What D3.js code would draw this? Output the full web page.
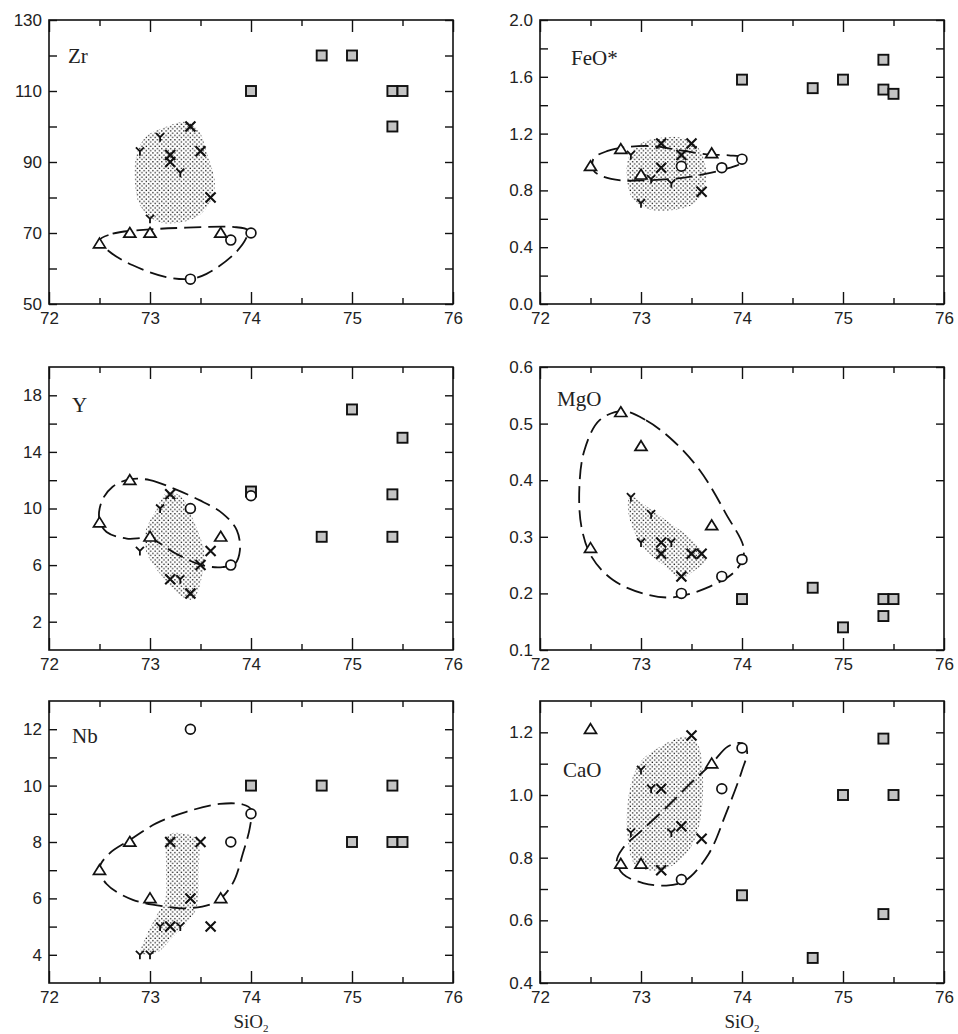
<!DOCTYPE html>
<html>
<head>
<meta charset="utf-8">
<script src="https://cdn.jsdelivr.net/npm/d3@7"></script>
<style>
body { margin: 0; background: #fff; }
svg { display: block; }
</style>
</head>
<body>
<svg id="chart" width="958" height="1034"></svg>
<script>
// shared SiO2 axis
var sio2Ticks = [72, 73, 74, 75, 76];
var sio2Minor = [72.5, 73.5, 74.5, 75.5];

// Zr
var zrTicks = [50, 70, 90, 110, 130];
var zrMinor = [60, 80, 100, 120];
var zrSquare = [[74,110],[74.7,120],[75,120],[75.4,110],[75.5,110],[75.4,100]];
var zrCircle = [[74,70],[73.8,68],[73.4,57]];
var zrTriangle = [[72.5,67],[72.8,70],[73,70],[73.7,70]];
var zrCross = [[73.4,100],[73.2,92],[73.2,90],[73.5,93],[73.6,80]];
var zrYmark = [[72.9,93],[73.1,97],[73.3,87],[73,74]];
var zrField = [[73.36,101.3],[73.16,99.9],[72.96,97.1],[72.87,92.4],[72.85,84.9],[72.9,77.8],[73.06,73.4],[73.26,72.8],[73.49,75],[73.62,80.2],[73.64,84.9],[73.57,91.9],[73.48,99]];
var zrLoop = [[72.5,67.9],[72.63,69.8],[73,71],[73.36,71.5],[73.82,71.7],[73.97,70.8],[73.95,68.4],[73.82,63.7],[73.56,58.5],[73.4,57.1],[73.16,57.6],[72.83,60.9],[72.6,64.7]];

// FeO*
var feTicks = [0, 0.4, 0.8, 1.2, 1.6, 2.0];
var feMinor = [0.2, 0.6, 1.0, 1.4, 1.8];
var feSquare = [[74,1.58],[74.7,1.52],[75,1.58],[75.4,1.72],[75.4,1.51],[75.5,1.48]];
var feCircle = [[73.4,0.97],[73.8,0.96],[74,1.02]];
var feTriangle = [[72.5,0.97],[72.8,1.09],[73,0.91],[73.7,1.06]];
var feCross = [[73.2,1.13],[73.5,1.13],[73.4,1.05],[73.2,0.96],[73.6,0.79]];
var feYmark = [[72.9,1.05],[73.1,0.88],[73.3,0.85],[73,0.71]];
var feField = [[73.16,1.165],[73.39,1.172],[73.56,1.106],[73.64,0.965],[73.63,0.824],[73.52,0.706],[73.29,0.659],[73.06,0.671],[72.91,0.753],[72.86,0.894],[72.88,1.035],[72.99,1.129]];
var feLoop = [[72.53,1.024],[72.67,1.078],[72.86,1.106],[73.13,1.111],[73.39,1.082],[73.65,1.054],[73.87,1.047],[74,1.031],[73.98,0.988],[73.85,0.953],[73.65,0.918],[73.39,0.887],[73.06,0.871],[72.8,0.871],[72.62,0.899],[72.53,0.941]];

// Y
var ytTicks = [2, 6, 10, 14, 18];
var ytMinor = [4, 8, 12, 16];
var ytSquare = [[75,17],[75.5,15],[75.4,11],[75.4,8],[74.7,8],[74,11.2]];
var ytCircle = [[74,10.9],[73.4,10],[73.8,6]];
var ytTriangle = [[72.8,12],[72.5,9],[73,8],[73.7,8]];
var ytCross = [[73.2,11],[73.6,7],[73.5,6],[73.2,5],[73.4,4]];
var ytYmark = [[73.1,10],[72.9,7],[73.3,5]];
var ytField = [[73.16,11.07],[73.29,10.95],[73.43,9.17],[73.54,6.8],[73.52,5.38],[73.43,3.61],[73.33,3.73],[73.1,5.38],[72.96,7.04],[72.96,8.46],[73.06,9.88]];
var ytLoop = [[72.8,12.06],[73,12.01],[73.23,11.42],[73.49,10.59],[73.72,9.64],[73.86,8.46],[73.89,7.04],[73.84,6.09],[73.72,5.86],[73.52,5.98],[73.26,6.8],[73,7.87],[72.77,7.87],[72.57,8.34],[72.5,9.17],[72.52,10.47],[72.63,11.54]];

// MgO
var mgTicks = [0.1, 0.2, 0.3, 0.4, 0.5, 0.6];
var mgMinor = [];
var mgSquare = [[74,0.19],[74.7,0.21],[75,0.14],[75.4,0.19],[75.5,0.19],[75.4,0.16]];
var mgCircle = [[74,0.26],[73.8,0.23],[73.4,0.2]];
var mgTriangle = [[72.8,0.52],[73,0.46],[73.7,0.32],[72.5,0.28]];
var mgCross = [[73.2,0.29],[73.2,0.27],[73.5,0.27],[73.6,0.27],[73.4,0.23]];
var mgYmark = [[72.9,0.37],[73.1,0.34],[73,0.29],[73.3,0.29]];
var mgField = [[72.89,0.374],[72.99,0.362],[73.25,0.329],[73.51,0.294],[73.64,0.259],[73.51,0.238],[73.4,0.226],[73.22,0.25],[73.02,0.282],[72.9,0.324],[72.87,0.353]];
var mgLoop = [[72.82,0.522],[73.05,0.506],[73.31,0.471],[73.58,0.418],[73.84,0.341],[74.02,0.276],[73.94,0.241],[73.68,0.212],[73.31,0.193],[73.02,0.2],[72.72,0.224],[72.51,0.265],[72.41,0.318],[72.39,0.388],[72.44,0.453],[72.59,0.506]];

// Nb
var nbTicks = [4, 6, 8, 10, 12];
var nbMinor = [5, 7, 9, 11];
var nbSquare = [[74,10],[74.7,10],[75.4,10],[75,8],[75.4,8],[75.5,8]];
var nbCircle = [[73.4,12],[74,9],[73.8,8]];
var nbTriangle = [[72.8,8],[72.5,7],[73,6],[73.7,6]];
var nbCross = [[73.2,8],[73.5,8],[73.4,6],[73.2,5],[73.6,5]];
var nbYmark = [[73.1,5],[73.3,5],[72.9,4],[73,4]];
var nbField = [[73.18,8.25],[73.36,8.28],[73.47,8.07],[73.48,6.89],[73.46,5.65],[73.36,5.12],[73.23,4.65],[73.06,4.06],[72.91,4.06],[72.96,4.65],[73.06,5.36],[73.15,5.95],[73.16,7.13]];
var nbLoop = [[72.5,7.07],[72.6,7.6],[72.8,8.07],[73.06,8.66],[73.36,9.07],[73.69,9.35],[73.92,9.33],[74,9.16],[73.99,8.54],[73.92,7.6],[73.82,6.54],[73.66,5.89],[73.39,5.65],[73.16,5.71],[72.83,5.95],[72.57,6.51]];

// CaO
var caTicks = [0.4, 0.6, 0.8, 1.0, 1.2];
var caMinor = [0.5, 0.7, 0.9, 1.1];
var caSquare = [[75.4,1.18],[75,1.0],[75.5,1.0],[74,0.68],[75.4,0.62],[74.7,0.48]];
var caCircle = [[74,1.15],[73.8,1.02],[73.4,0.73]];
var caTriangle = [[72.5,1.21],[73.7,1.1],[72.8,0.78],[73,0.78]];
var caCross = [[73.5,1.19],[73.2,1.02],[73.4,0.9],[73.6,0.86],[73.2,0.76]];
var caYmark = [[73,1.08],[73.1,1.02],[72.9,0.88],[73.3,0.88]];
var caField = [[73.44,1.186],[73.56,1.163],[73.61,1.078],[73.6,0.95],[73.53,0.855],[73.38,0.791],[73.18,0.759],[72.95,0.775],[72.87,0.855],[72.88,1.003],[72.98,1.099],[73.18,1.152]];
var caLoop = [[74,1.165],[73.86,1.155],[73.7,1.1],[73.5,1.04],[73.25,0.96],[73,0.885],[72.82,0.83],[72.76,0.79],[72.82,0.748],[73.02,0.719],[73.25,0.711],[73.44,0.727],[73.67,0.812],[73.84,0.94],[74,1.078],[74.05,1.14]];

var cols = [[49, 453], [540, 944]];
var rows = [[20, 304], [367, 650], [701, 983]];

var panels = [
  {name: "Zr",   col: 0, row: 0, dom: [50, 130], ticks: zrTicks, minor: zrMinor, fmt: "d",   at: [68, 63],
   field: zrField, loop: zrLoop, sq: zrSquare, ci: zrCircle, tr: zrTriangle, cr: zrCross, ym: zrYmark},
  {name: "FeO*", col: 1, row: 0, dom: [0, 2], ticks: feTicks, minor: feMinor, fmt: ".1f", at: [571, 65],
   field: feField, loop: feLoop, sq: feSquare, ci: feCircle, tr: feTriangle, cr: feCross, ym: feYmark},
  {name: "Y",    col: 0, row: 1, dom: [0, 20], ticks: ytTicks, minor: ytMinor, fmt: "d",   at: [72, 412],
   field: ytField, loop: ytLoop, sq: ytSquare, ci: ytCircle, tr: ytTriangle, cr: ytCross, ym: ytYmark},
  {name: "MgO",  col: 1, row: 1, dom: [0.1, 0.6], ticks: mgTicks, minor: mgMinor, fmt: ".1f", at: [557, 406],
   field: mgField, loop: mgLoop, sq: mgSquare, ci: mgCircle, tr: mgTriangle, cr: mgCross, ym: mgYmark},
  {name: "Nb",   col: 0, row: 2, dom: [3, 13], ticks: nbTicks, minor: nbMinor, fmt: "d",   at: [72, 743],
   field: nbField, loop: nbLoop, sq: nbSquare, ci: nbCircle, tr: nbTriangle, cr: nbCross, ym: nbYmark},
  {name: "CaO",  col: 1, row: 2, dom: [0.4, 1.3], ticks: caTicks, minor: caMinor, fmt: ".1f", at: [563, 777],
   field: caField, loop: caLoop, sq: caSquare, ci: caCircle, tr: caTriangle, cr: caCross, ym: caYmark}
];

var svg = d3.select("#chart");
var sans = "'Liberation Sans', Arial, sans-serif";
var serif = "'Liberation Serif', 'Times New Roman', serif";

// stipple for the shaded fields
var pat = svg.append("defs").append("pattern")
  .attr("id", "dots").attr("patternUnits", "userSpaceOnUse")
  .attr("width", 4.4).attr("height", 4.4);
pat.append("rect").attr("x", 0.5).attr("y", 0.5).attr("width", 1.3).attr("height", 1.3).attr("fill", "#1a1a1a");
pat.append("rect").attr("x", 2.7).attr("y", 2.7).attr("width", 1.3).attr("height", 1.3).attr("fill", "#1a1a1a");

function styleAxis(g) {
  g.select(".domain").remove();
  g.selectAll(".tick line").attr("stroke", "#111").attr("stroke-width", 1.4);
  g.selectAll(".tick text").attr("fill", "#222").style("font-family", sans).style("font-size", "17px");
}

panels.forEach(function(p) {
  var x0 = cols[p.col][0], x1 = cols[p.col][1];
  var y0 = rows[p.row][0], y1 = rows[p.row][1];
  var x = d3.scaleLinear().domain([72, 76]).range([x0, x1]);
  var y = d3.scaleLinear().domain(p.dom).range([y1, y0]);
  var g = svg.append("g");
  var fmt = d3.format(p.fmt);
  var line = d3.line().x(function(d) { return x(d[0]); }).y(function(d) { return y(d[1]); })
    .curve(d3.curveCatmullRomClosed.alpha(0.5));

  // stippled field, then dashed outline
  g.append("path").datum(p.field).attr("d", line)
    .attr("fill", "url(#dots)").attr("stroke", "none");
  g.append("path").datum(p.loop).attr("d", line)
    .attr("fill", "none").attr("stroke", "#111").attr("stroke-width", 1.8)
    .attr("stroke-dasharray", "17,7");

  // axes, ticks pointing inward
  g.append("g").attr("transform", "translate(0," + y1 + ")")
    .call(d3.axisBottom(x).tickValues(sio2Ticks).tickSize(-12).tickPadding(8).tickFormat(d3.format("d")))
    .call(styleAxis);
  g.append("g").attr("transform", "translate(0," + y1 + ")")
    .call(d3.axisBottom(x).tickValues(sio2Minor).tickSize(-6).tickFormat(""))
    .call(styleAxis);
  g.append("g").attr("transform", "translate(0," + y0 + ")")
    .call(d3.axisTop(x).tickValues(sio2Ticks).tickSize(-12).tickFormat(""))
    .call(styleAxis);
  g.append("g").attr("transform", "translate(0," + y0 + ")")
    .call(d3.axisTop(x).tickValues(sio2Minor).tickSize(-6).tickFormat(""))
    .call(styleAxis);
  g.append("g").attr("transform", "translate(" + x0 + ",0)")
    .call(d3.axisLeft(y).tickValues(p.ticks.concat(p.minor)).tickSize(-8).tickPadding(7)
      .tickFormat(function(d) { return p.ticks.indexOf(d) >= 0 ? fmt(d) : ""; }))
    .call(styleAxis);
  g.append("g").attr("transform", "translate(" + x1 + ",0)")
    .call(d3.axisRight(y).tickValues(p.ticks.concat(p.minor)).tickSize(-8).tickFormat(""))
    .call(styleAxis);

  g.append("rect").attr("x", x0).attr("y", y0).attr("width", x1 - x0).attr("height", y1 - y0)
    .attr("fill", "none").attr("stroke", "#111").attr("stroke-width", 1.6);

  function marks(data) {
    return g.selectAll(null).data(data).enter().append("g")
      .attr("transform", function(d) { return "translate(" + x(d[0]) + "," + y(d[1]) + ")"; });
  }
  marks(p.sq).append("rect").attr("x", -5).attr("y", -5).attr("width", 10).attr("height", 10)
    .attr("fill", "#c4c4c4").attr("stroke", "#111").attr("stroke-width", 1.9);
  marks(p.ci).append("circle").attr("r", 4.9)
    .attr("fill", "#fff").attr("stroke", "#111").attr("stroke-width", 1.7);
  marks(p.tr).append("path").attr("d", "M0,-5.5L6,4.2L-6,4.2Z")
    .attr("fill", "#fff").attr("stroke", "#111").attr("stroke-width", 1.7).attr("stroke-linejoin", "miter");
  marks(p.cr).append("path").attr("d", "M-5,-5L5,5M-5,5L5,-5")
    .attr("fill", "none").attr("stroke", "#111").attr("stroke-width", 2.1);
  marks(p.ym).append("path").attr("d", "M-4,-4L0,0L4,-4M0,0L0,4.5")
    .attr("fill", "none").attr("stroke", "#111").attr("stroke-width", 1.8);

  g.append("text").attr("x", p.at[0]).attr("y", p.at[1]).text(p.name)
    .style("font-family", serif).style("font-size", "21px").attr("fill", "#222");

  if (p.row == 2) {
    var t = g.append("text").attr("x", (x0 + x1) / 2).attr("y", 1028).attr("text-anchor", "middle")
      .style("font-family", serif).style("font-size", "19px").attr("fill", "#222");
    t.append("tspan").text("SiO");
    t.append("tspan").attr("dy", 4).style("font-size", "11px").text("2");
  }
});
</script>
</body>
</html>
